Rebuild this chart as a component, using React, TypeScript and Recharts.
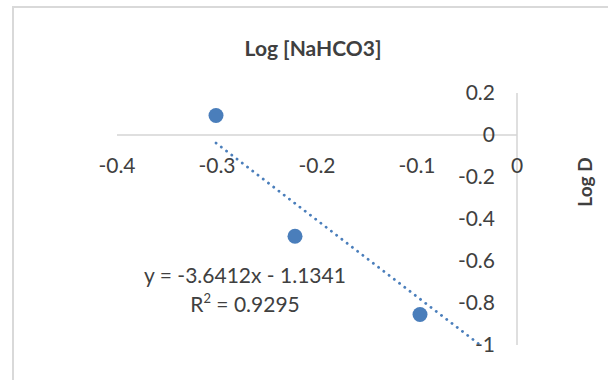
import React from 'react';
import { ScatterChart, Scatter, XAxis, YAxis, ReferenceLine } from 'recharts';

// values
const logNaHCO3 = [-0.301, -0.222, -0.097];
const logD = [0.093, -0.482, -0.855];
const xTicks = [-0.4, -0.3, -0.2, -0.1, 0];
const yTicks = [0.2, 0, -0.2, -0.4, -0.6, -0.8, -1];

// linear trendline as printed on the chart
const slope = -3.6412;
const intercept = -1.1341;
const rSquared = 0.9295;

const xDomain: [number, number] = [-0.4, 0];
const yDomain: [number, number] = [-1, 0.2];

const W = 608;
const H = 380;
const margin = { top: 93, right: 91, left: 117, bottom: 0 };
const xAxisHeight = 35;

const blue = '#4A7EBB';
const axisGray = '#D4D4D4';
const textColor = '#404040';
const font = 'Lato, "Open Sans", sans-serif';
const tickSize = 21;

const points = logNaHCO3.map((x, i) => ({ x, y: logD[i] }));

const trendStartX = Math.min(...logNaHCO3);
const trendEndX = (yDomain[0] - intercept) / slope;
const trendSegment = [
  { x: trendStartX, y: slope * trendStartX + intercept },
  { x: trendEndX, y: slope * trendEndX + intercept },
];

// pixel row of y = 0, where the horizontal axis crosses
const plotH = H - margin.top - xAxisHeight;
const zeroY = margin.top + (plotH * (yDomain[1] - 0)) / (yDomain[1] - yDomain[0]);
const plotRight = W - margin.right;

const fmt = (v: number) => String(v);

const XTick = (props: any) => {
  const { x, payload } = props;
  return (
    <text x={x} y={zeroY + 31} dy="0.35em" textAnchor="middle" fill={textColor} fontSize={tickSize} fontFamily={font}>
      {fmt(payload.value)}
    </text>
  );
};

const YTick = (props: any) => {
  const { y, payload } = props;
  return (
    <text x={plotRight - 22} y={y} dy="0.35em" textAnchor="end" fill={textColor} fontSize={tickSize} fontFamily={font}>
      {fmt(payload.value)}
    </text>
  );
};

const Dot = (props: any) => <circle cx={props.cx} cy={props.cy} r={7.5} fill={blue} />;

export default function App() {
  return (
    <div style={{ position: 'absolute', left: 0, top: 0, width: W, height: H, background: '#fff', overflow: 'hidden', fontFamily: font }}>
      <div
        style={{
          position: 'absolute',
          left: 12,
          top: 6,
          width: W,
          height: H,
          borderLeft: '2px solid #D9D9D9',
          borderTop: '2px solid #D9D9D9',
        }}
      />
      <ScatterChart width={W} height={H} margin={margin} style={{ position: 'absolute', left: 0, top: 0 }}>
        <XAxis
          type="number"
          dataKey="x"
          domain={xDomain}
          ticks={xTicks}
          height={xAxisHeight}
          axisLine={false}
          tickLine={false}
          tick={<XTick />}
          interval={0}
        />
        <YAxis
          type="number"
          dataKey="y"
          orientation="right"
          mirror
          domain={yDomain}
          ticks={yTicks}
          axisLine={{ stroke: axisGray, strokeWidth: 1.5 }}
          tickLine={false}
          tick={<YTick />}
          interval={0}
        />
        <ReferenceLine y={0} stroke={axisGray} strokeWidth={1.5} />
        <ReferenceLine
          segment={trendSegment}
          stroke={blue}
          strokeWidth={2.8}
          strokeDasharray="0.1 6.5"
          strokeLinecap="round"
          ifOverflow="visible"
        />
        <Scatter data={points} fill={blue} shape={<Dot />} isAnimationActive={false} />
      </ScatterChart>
      <div
        style={{
          position: 'absolute',
          left: 213,
          width: 200,
          top: 35,
          textAlign: 'center',
          fontWeight: 700,
          fontSize: 21,
          color: textColor,
        }}
      >
        Log [NaHCO3]
      </div>
      <div
        style={{
          position: 'absolute',
          left: 584,
          top: 182,
          transform: 'translate(-50%, -50%) rotate(-90deg)',
          fontWeight: 700,
          fontSize: 19,
          color: textColor,
          whiteSpace: 'nowrap',
        }}
      >
        Log D
      </div>
      <div
        style={{
          position: 'absolute',
          left: 120,
          width: 250,
          top: 260,
          textAlign: 'center',
          fontSize: 21,
          lineHeight: '29px',
          color: textColor,
          whiteSpace: 'nowrap',
        }}
      >
        <div>{`y = ${slope}x - ${Math.abs(intercept)}`}</div>
        <div>
          R<sup style={{ fontSize: 13, verticalAlign: 'top', lineHeight: '13px', position: 'relative', top: 3 }}>2</sup> = {rSquared}
        </div>
      </div>
    </div>
  );
}
